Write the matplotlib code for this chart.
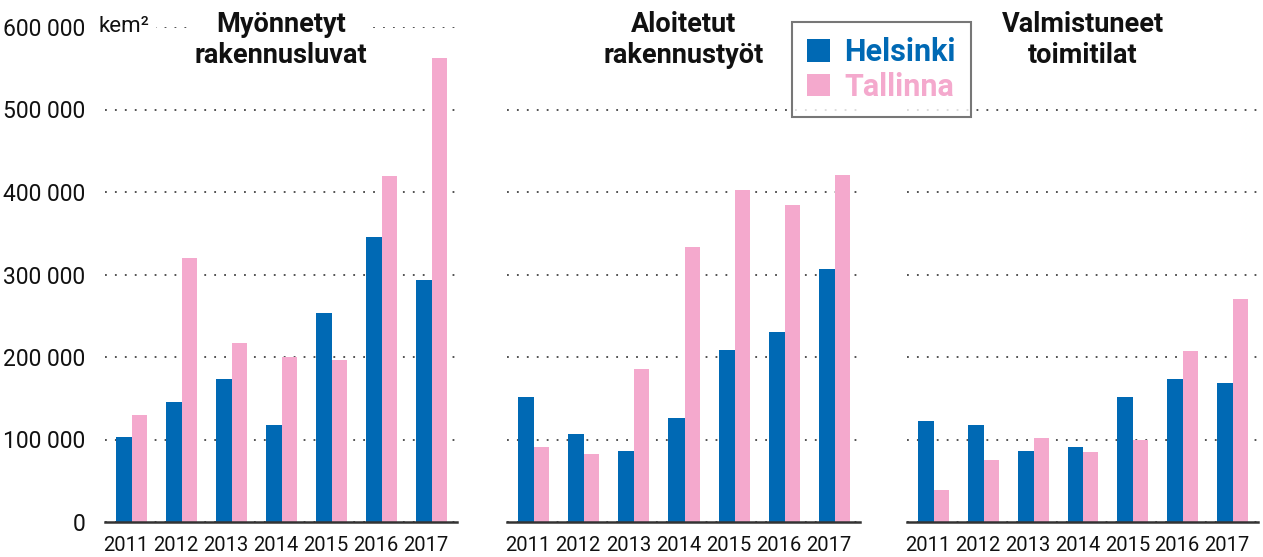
import matplotlib.pyplot as plt
from matplotlib.patches import Patch

plt.rcParams['font.family'] = ['Roboto', 'DejaVu Sans']

# Data (kem2)
years = ["2011", "2012", "2013", "2014", "2015", "2016", "2017"]
titles = ["Myönnetyt\nrakennusluvat", "Aloitetut\nrakennustyöt", "Valmistuneet\ntoimitilat"]

helsinki = [
    [103000, 145000, 173000, 117000, 253000, 346000, 293000],
    [152000, 107000, 86000, 126000, 208000, 230000, 307000],
    [123000, 117000, 86000, 91000, 152000, 173000, 168000],
]
tallinna = [
    [130000, 320000, 217000, 200000, 196000, 419000, 563000],
    [91000, 82000, 186000, 333000, 403000, 384000, 421000],
    [39000, 75000, 102000, 85000, 99000, 207000, 270000],
]
series_names = ["Helsinki", "Tallinna"]
yticks_main = [0, 100000, 200000, 300000, 400000, 500000, 600000]

BLUE = "#0069b4"
PINK = "#f4a9cd"

W, H = 1263, 557
fig = plt.figure(figsize=(W / 100, H / 100), dpi=100)

panels_px = [(105, 457), (507, 860), (907, 1258)]
bottom = 1 - 522 / H
top = 1 - 27 / H

def fmt(v):
    return f"{v:,}".replace(",", " ")

for k, (x0, x1) in enumerate(panels_px):
    ax = fig.add_axes([x0 / W, bottom, (x1 - x0) / W, top - bottom])
    xs = list(range(len(years)))
    ax.bar([x - 0.16 for x in xs], helsinki[k], width=0.32, color=BLUE, zorder=2)
    ax.bar([x + 0.15 for x in xs], tallinna[k], width=0.30, color=PINK, zorder=2)
    ax.set_xlim(-0.54, 6.5)
    ax.set_ylim(0, 600000)

    if k == 0:
        ax.set_yticks(yticks_main)
        ax.set_yticklabels([fmt(v) for v in yticks_main], fontsize=16.5, color="#111")
    else:
        ax.set_yticks(yticks_main[:-1])
        ax.set_yticklabels([])
    ax.tick_params(axis="y", length=0, pad=14)
    ax.set_xticks([x - 0.12 for x in xs])
    ax.set_xticklabels(years, fontsize=14.5, color="#111")
    ax.tick_params(axis="x", length=0, pad=10)

    ax.yaxis.grid(True, linestyle=(0, (1, 4.5)), linewidth=1.3, color="#444", zorder=1)
    ax.set_axisbelow(True)
    for s in ["top", "right", "left"]:
        ax.spines[s].set_visible(False)
    ax.spines["bottom"].set_linewidth(1.8)
    ax.spines["bottom"].set_color("#333")
    ax.spines["bottom"].set_zorder(3)

    ax.text(0.5, 1 + 16 / (522 - 27), titles[k], transform=ax.transAxes,
            ha="center", va="top", fontsize=19.5, fontweight="bold", color="#111",
            linespacing=1.2, zorder=5,
            bbox=dict(facecolor="white", edgecolor="none", pad=2))

    if k == 0:
        ax.text(98 / W, 1 - 26 / H, "kem²", transform=fig.transFigure,
                ha="left", va="center", fontsize=16, color="#111", zorder=5,
                bbox=dict(facecolor="white", edgecolor="none", pad=5))

handles = [Patch(facecolor=BLUE, edgecolor="none"), Patch(facecolor=PINK, edgecolor="none")]
leg = fig.legend(handles, series_names, loc="upper left",
                 bbox_to_anchor=(792 / W, 1 - 22 / H), bbox_transform=fig.transFigure,
                 borderaxespad=0,
                 prop=dict(family="Roboto", weight="bold", size=22),
                 labelcolor=[BLUE, PINK], handlelength=0.75, handleheight=0.75,
                 handletextpad=0.45, labelspacing=0.15, borderpad=0.5,
                 fancybox=False, frameon=True)
leg.get_frame().set_edgecolor("#555")
leg.get_frame().set_linewidth(1.5)

fig.savefig("out.png", dpi=100)
